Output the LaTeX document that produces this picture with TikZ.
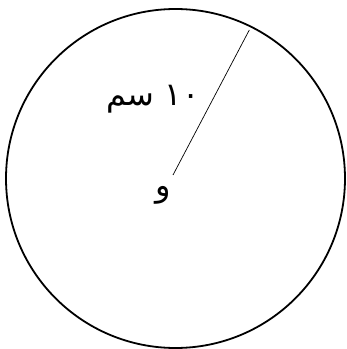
\documentclass[tikz,border=0pt]{standalone}
\usepackage{fontspec}
\TeXXeTstate=1
\newfontfamily\arabicfont[Script=Arabic]{DejaVu Sans}
\begin{document}
\begin{tikzpicture}[x=1pt,y=1pt,
  rim/.style={line width=1.8pt},
  radius line/.style={line width=0.7pt},
  lbl/.style={font=\arabicfont\fontsize{32}{36}\selectfont, inner sep=0pt}]
\useasboundingbox (0,0) rectangle (347,349);
\node[circle, draw, rim, minimum size=339pt, inner sep=0pt] (c) at (175.5,170.5) {};
\coordinate (O) at (173,174);
\coordinate (P) at (249.3,319);
\draw[radius line] (O) -- (P);
\node[lbl] (r) at (153,250) {\beginR\beginL ١٠\endL{} سم\endR};
\node[lbl] (o) at (163,154) {\beginR و\endR};
\end{tikzpicture}
\end{document}
